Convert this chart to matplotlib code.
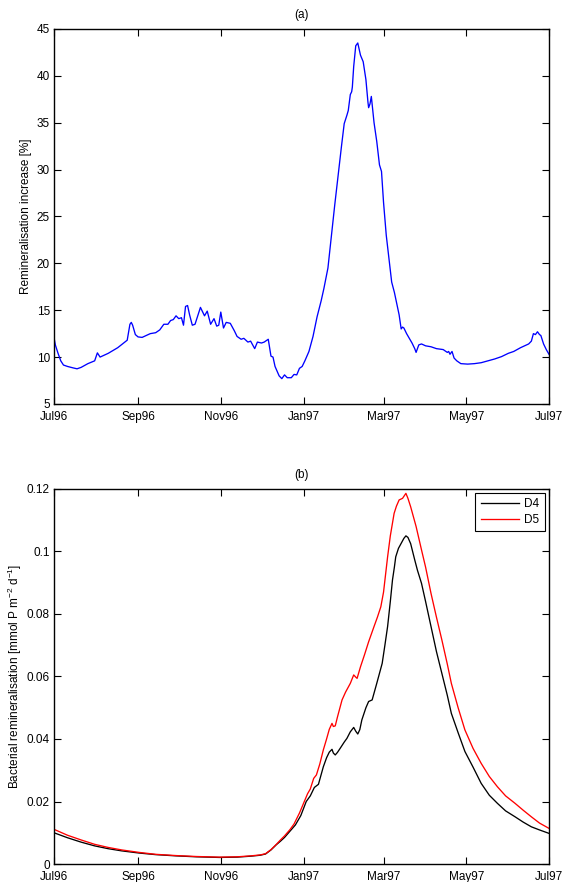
import numpy as np
import matplotlib
matplotlib.use("Agg")
import matplotlib.pyplot as plt
import matplotlib.dates as mdates

plt.rcParams['font.family'] = ['Liberation Sans', 'DejaVu Sans']
plt.rcParams['mathtext.fontset'] = 'custom'
plt.rcParams['mathtext.rm'] = 'Liberation Sans'
plt.rcParams['mathtext.it'] = 'Liberation Sans:italic'
plt.rcParams['font.size'] = 8.5

start = np.datetime64('1996-07-01')

# Panel (a): remineralisation increase [%]
a_days = [0, 1, 3, 5, 7, 10, 14, 17, 20, 25, 30, 32, 34, 40, 47, 54, 56, 57, 58, 60, 62, 65, 71, 75, 78,
          81, 84, 86, 88, 90, 92, 94, 95.5, 97, 98.5, 100, 102, 104, 108, 111, 113, 115.5, 118, 120, 121.5,
          123, 125, 127, 130, 133, 135, 138, 140, 143, 145, 148, 150, 153, 155, 158, 160, 161.5, 163, 166,
          168, 170, 172, 175, 177, 179, 181, 183, 185, 188, 191, 193, 194, 197, 199, 202, 205, 207, 210,
          212, 214, 216, 217, 218.5, 219.5, 220, 221, 222.5, 224, 226, 228, 230, 231.5, 232, 233, 234, 236,
          238, 240, 241.5, 243, 245, 247, 249, 251, 253, 254.5, 256, 257, 258, 260, 262, 264, 266, 267, 269,
          271, 274, 278, 282, 287, 290, 291, 292, 293.5, 295, 297, 300, 305, 310, 315, 320, 325, 330, 335,
          339, 344, 350, 352, 353.5, 355, 356.5, 358, 359, 361, 363, 365]
a_vals = [12.1, 11.3, 10.4, 9.6, 9.15, 9.0, 8.85, 8.75, 8.9, 9.3, 9.6, 10.45, 10.0, 10.4, 11.0, 11.8, 13.5,
          13.7, 13.4, 12.4, 12.15, 12.1, 12.5, 12.6, 12.9, 13.5, 13.5, 13.9, 14.0, 14.4, 14.1, 14.2, 13.4,
          15.4, 15.5, 14.5, 13.4, 13.5, 15.3, 14.4, 14.9, 13.5, 14.1, 13.3, 13.4, 14.8, 13.1, 13.7, 13.6,
          12.8, 12.2, 11.9, 12.0, 11.6, 11.7, 10.9, 11.6, 11.5, 11.6, 11.9, 10.1, 10.0, 9.0, 8.0, 7.7, 8.1,
          7.8, 7.8, 8.15, 8.1, 8.8, 9.0, 9.6, 10.6, 12.2, 13.6, 14.3, 16.0, 17.3, 19.5, 23.5, 26.2, 30.0,
          32.5, 34.9, 35.8, 36.3, 38.0, 38.3, 38.8, 41.0, 43.2, 43.5, 42.2, 41.5, 39.6, 37.2, 36.6, 37.0,
          37.8, 35.0, 33.0, 30.5, 29.8, 26.5, 23.0, 20.5, 18.0, 16.9, 15.5, 14.5, 13.0, 13.2, 13.1, 12.5,
          12.0, 11.5, 10.9, 10.5, 11.3, 11.4, 11.2, 11.1, 10.9, 10.8, 10.5, 10.6, 10.3, 10.6, 9.9, 9.6, 9.3,
          9.25, 9.3, 9.4, 9.6, 9.8, 10.05, 10.4, 10.6, 11.0, 11.4, 11.7, 12.5, 12.4, 12.7, 12.4, 12.3, 11.4,
          10.8, 10.3]

# Panel (b): bacterial remineralisation
d4_days = [0, 10, 20, 30, 40, 50, 63, 75, 90, 105, 122, 135, 145, 152, 156, 160, 164, 167, 170, 174, 178,
           182, 186, 189, 192, 195, 198.6, 201, 203, 205, 206, 207.4, 209, 211, 214, 216, 218.5, 221, 222.5,
           224, 225.5, 227, 230, 232, 234.6, 238, 242, 244, 246, 248, 249.6, 251, 252, 254, 256, 258, 259.5,
           261, 263, 266, 268, 271, 274, 278, 282, 286, 290, 293, 298, 303, 309, 315, 321, 327, 333, 340,
           346, 352, 358, 365]
d4_vals = [0.0100, 0.0084, 0.0070, 0.0058, 0.0049, 0.0042, 0.0035, 0.0030, 0.0026, 0.0023, 0.0021, 0.0022,
           0.0025, 0.0028, 0.0032, 0.0045, 0.0062, 0.0073, 0.0085, 0.0105, 0.0125, 0.0155, 0.0200, 0.0218,
           0.0245, 0.0255, 0.0311, 0.0340, 0.0358, 0.0367, 0.0355, 0.0349, 0.0357, 0.0370, 0.0390, 0.0402,
           0.0423, 0.0437, 0.0425, 0.0416, 0.0430, 0.0461, 0.0500, 0.0520, 0.0525, 0.0578, 0.0642, 0.0700,
           0.0760, 0.0840, 0.0909, 0.0950, 0.0983, 0.1010, 0.1026, 0.1042, 0.1050, 0.1045, 0.1025, 0.0973,
           0.0940, 0.0898, 0.0840, 0.0760, 0.0680, 0.0610, 0.0540, 0.0482, 0.0420, 0.0360, 0.0310, 0.0258,
           0.0220, 0.0194, 0.0170, 0.0151, 0.0134, 0.0119, 0.0109, 0.0098]

d5_days = [0, 10, 20, 30, 40, 50, 63, 75, 90, 105, 122, 135, 145, 152, 156, 160, 164, 167, 170, 174, 177,
           181, 184, 187, 189, 191.5, 193.5, 196, 198.6, 201, 203, 205, 206, 207.4, 209, 212.4, 215, 218.5,
           221, 222.5, 223.5, 226, 229, 232, 236, 238.5, 241, 243, 246, 248, 250.8, 252.5, 254.5, 257, 259.5,
           261, 263, 267, 271, 274, 278, 282, 286, 290, 293, 298, 303, 309, 315, 321, 327, 333, 340, 346,
           352, 358, 365]
d5_vals = [0.0111, 0.0092, 0.0077, 0.0063, 0.0053, 0.0045, 0.0037, 0.0031, 0.0027, 0.0024, 0.0022, 0.0023,
           0.0026, 0.0029, 0.0033, 0.0046, 0.0063, 0.0077, 0.0090, 0.0110, 0.0128, 0.0163, 0.0194, 0.0225,
           0.0240, 0.0274, 0.0285, 0.0320, 0.0365, 0.0400, 0.0431, 0.0450, 0.0440, 0.0442, 0.0470, 0.0525,
           0.0550, 0.0578, 0.0605, 0.0598, 0.0594, 0.0631, 0.0670, 0.0711, 0.0760, 0.0790, 0.0823, 0.0870,
           0.0983, 0.1050, 0.1122, 0.1145, 0.1165, 0.1170, 0.1186, 0.1170, 0.1143, 0.1080, 0.1005, 0.0950,
           0.0866, 0.0790, 0.0717, 0.0640, 0.0578, 0.0500, 0.0429, 0.0370, 0.0322, 0.0280, 0.0247, 0.0218,
           0.0194, 0.0172, 0.0151, 0.0131, 0.0114]

tick_dates = ['1996-07-01', '1996-09-01', '1996-11-01', '1997-01-01', '1997-03-01', '1997-05-01', '1997-07-01']


def to_dates(days):
    return start + (np.array(days) * 24 * 3600).astype('timedelta64[s]')


fig = plt.figure(figsize=(5.64, 8.82), dpi=100)
ax1 = fig.add_axes([0.0957, 0.5420, 0.8777, 0.4252])
ax2 = fig.add_axes([0.0957, 0.0204, 0.8777, 0.4252])

ax1.plot(to_dates(a_days), a_vals, color='#0000ff', lw=0.95)
ax2.plot(to_dates(d4_days), d4_vals, color='black', lw=0.95, label='D4')
ax2.plot(to_dates(d5_days), d5_vals, color='#ff0000', lw=0.95, label='D5')

ticks = [np.datetime64(t) for t in tick_dates]
for ax in (ax1, ax2):
    ax.set_xlim(ticks[0], ticks[-1])
    ax.set_xticks(ticks)
    ax.xaxis.set_major_formatter(mdates.DateFormatter('%b%y'))
    ax.tick_params(direction='in', top=True, right=True, length=5, width=0.8, labelsize=8.5)
    ax.tick_params(axis='x', pad=5)
    ax.tick_params(axis='y', pad=3)
    for s in ax.spines.values():
        s.set_linewidth(1.0)

ax1.set_ylim(5, 45)
ax1.set_yticks(np.arange(5, 46, 5))
ax1.set_ylabel('Remineralisation increase [%]', fontsize=8.5, labelpad=3)
ax1.set_title('(a)', fontsize=8.5, pad=8)

ax2.set_ylim(0, 0.12)
ax2.set_yticks([0, 0.02, 0.04, 0.06, 0.08, 0.1, 0.12])
ax2.set_yticklabels(['0', '0.02', '0.04', '0.06', '0.08', '0.1', '0.12'])
ax2.set_ylabel('Bacterial remineralisation [mmol P m$^{-2}$ d$^{-1}$]', fontsize=8.5, labelpad=2)
ax2.set_title('(b)', fontsize=8.5, pad=8)
leg = ax2.legend(loc='upper right', fontsize=8.5, fancybox=False, framealpha=1, edgecolor='black',
                 handlelength=3.2, borderaxespad=0.35, borderpad=0.45, labelspacing=0.3,
                 handletextpad=0.5)
leg.get_frame().set_linewidth(0.8)

fig.savefig('out.png', dpi=100)
